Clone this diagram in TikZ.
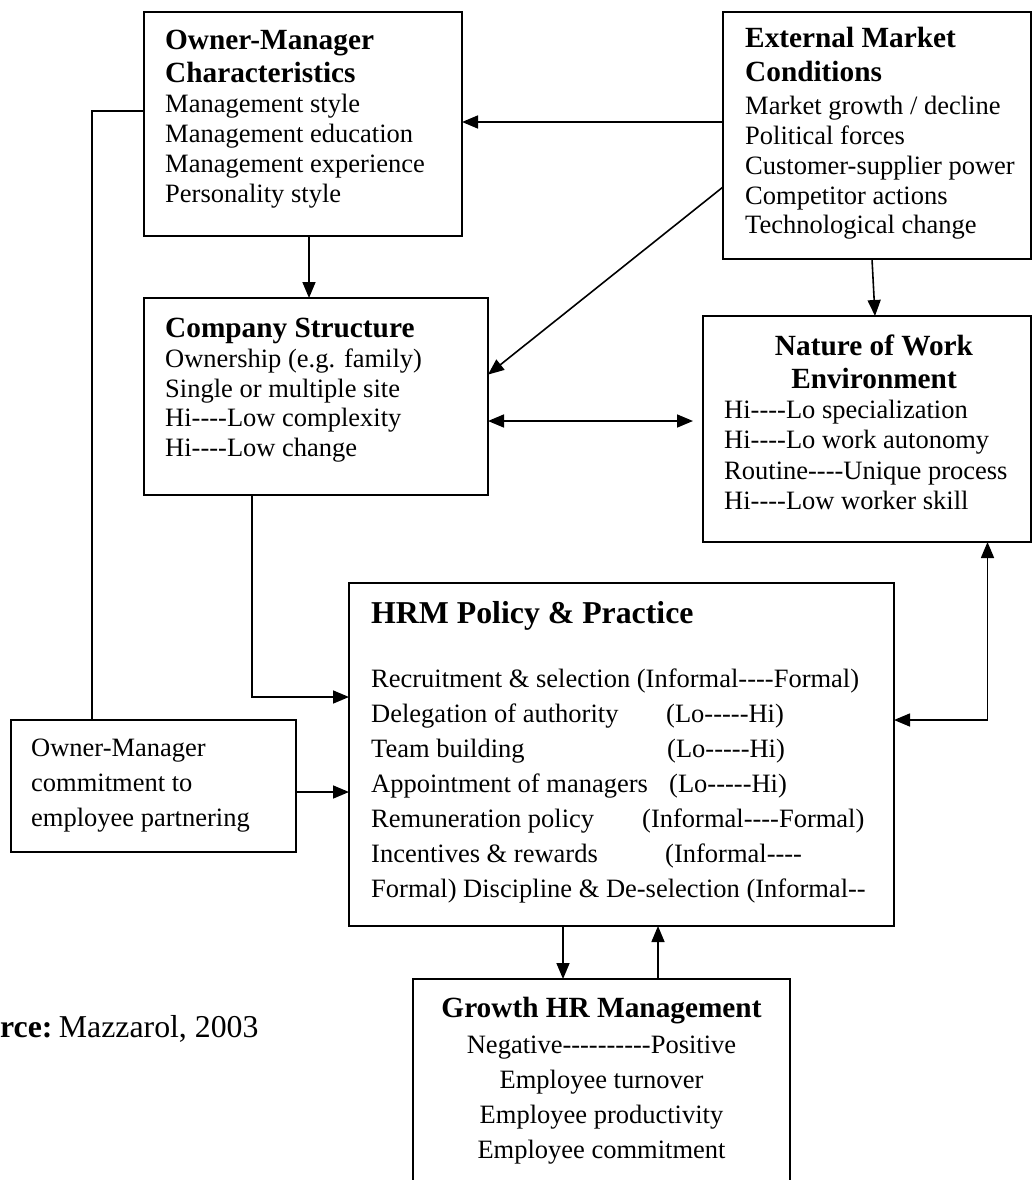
\documentclass[tikz,border=0pt]{standalone}
\usepackage{fontspec}
\setmainfont{Liberation Serif}[Ligatures=TeXOff]
\usetikzlibrary{arrows.meta}
\newcommand\bodyfont{\fontsize{26.5}{30}\selectfont}
\newcommand\headfont{\fontsize{29.3}{33}\selectfont\bfseries}
\newcommand\bigfont{\fontsize{31.8}{36}\selectfont}

\begin{document}
\begin{tikzpicture}[x=1pt,y=-1pt,
  box/.style={draw, line width=1.8pt, anchor=north west, inner sep=0pt, outer sep=0pt},
  wire/.style={line width=1.6pt},
  tip/.tip={Triangle[length=16pt,width=13pt]},
  arr/.style={wire, -tip},
  arrboth/.style={wire, tip-tip},
  ln/.style={anchor=base west, inner sep=0pt, font=\bodyfont},
  hd/.style={anchor=base west, inner sep=0pt, font=\headfont},
  lnc/.style={anchor=base, inner sep=0pt, font=\bodyfont},
  hdc/.style={anchor=base, inner sep=0pt, font=\headfont}]

\clip (0,0) rectangle (1032,1180);

% ---- boxes ----
\node[box, minimum width=318pt, minimum height=224pt] (om)  at (144,12)  {};
\node[box, minimum width=308pt, minimum height=247pt] (emc) at (723,12)  {};
\node[box, minimum width=344pt, minimum height=197pt] (cs)  at (144,298) {};
\node[box, minimum width=328pt, minimum height=226pt] (nwe) at (703,316) {};
\node[box, minimum width=545pt, minimum height=343pt] (hrm) at (349,583) {};
\node[box, minimum width=285pt, minimum height=132pt] (omc) at (11,720)  {};
\node[box, minimum width=377pt, minimum height=240pt] (ghr) at (413,979) {};

% ---- Owner-Manager Characteristics ----
\foreach \t [count=\i] in {Owner-Manager, Characteristics}
  \node[hd] (omh\i) at (165,{50+33*(\i-1)}) {\t};
\foreach \t [count=\i] in {Management style, Management education,
    Management experience, Personality style}
  \node[ln] (oml\i) at (165,{113+29.7*(\i-1)}) {\t};

% ---- External Market Conditions ----
\foreach \t [count=\i] in {External Market, Conditions}
  \node[hd] (emch\i) at (745,{48+34*(\i-1)}) {\t};
\foreach \t [count=\i] in {Market growth / decline, Political forces,
    Customer-supplier power, Competitor actions, Technological change}
  \node[ln] (emcl\i) at (745,{115+29.7*(\i-1)}) {\t};

% ---- Company Structure ----
\node[hd] (csh) at (165,337) {Company Structure};
\foreach \t [count=\i] in {Ownership (e.g. family), Single or multiple site,
    Hi----Low complexity, Hi----Low change}
  \node[ln] (csl\i) at (165,{367.5+29.7*(\i-1)}) {\t};

% ---- Nature of Work Environment ----
\foreach \t [count=\i] in {Nature of Work, Environment}
  \node[hdc] (nweh\i) at (874,{355+33*(\i-1)}) {\t};
\foreach \t [count=\i] in {Hi----Lo specialization, Hi----Lo work autonomy,
    Routine----Unique process, Hi----Low worker skill}
  \node[ln] (nwel\i) at (724,{418+30.5*(\i-1)}) {\t};

% ---- HRM Policy & Practice ----
\node[anchor=base west, inner sep=0pt, font=\bigfont\bfseries] (hrmh) at (371,623) {HRM Policy \& Practice};
\node[ln] (hr1) at (371,687) {Recruitment \& selection (Informal----Formal)};
\node[ln] (hr2) at (371,722) {Delegation of authority};
\node[ln] (hr2b) at (666,722) {(Lo-----Hi)};
\node[ln] (hr3) at (371,757) {Team building};
\node[ln] (hr3b) at (667,757) {(Lo-----Hi)};
\node[ln] (hr4) at (371,792) {Appointment of managers};
\node[ln] (hr4b) at (669,792) {(Lo-----Hi)};
\node[ln] (hr5) at (371,827) {Remuneration policy};
\node[ln] (hr5b) at (642,827) {(Informal----Formal)};
\node[ln] (hr6) at (371,862) {Incentives \& rewards};
\node[ln] (hr6b) at (665,862) {(Informal----};
\node[ln] (hr7) at (371,897) {Formal) Discipline \& De-selection (Informal--};

% ---- Owner-Manager commitment ----
\foreach \t [count=\i] in {Owner-Manager, commitment to, employee partnering}
  \node[ln] (omcl\i) at (31,{756+35*(\i-1)}) {\t};

% ---- Growth HR Management ----
\node[hdc] (ghrh) at (601.5,1017) {Growth HR Management};
\foreach \t [count=\i] in {Negative----------Positive, Employee turnover,
    Employee productivity, Employee commitment}
  \node[lnc] (ghrl\i) at (601.5,{1053+35*(\i-1)}) {\t};

% ---- source ----
\node[anchor=base west, inner sep=0pt, font=\bigfont] (src) at (0,1037) {\textbf{rce:}\hspace{0.2em}Mazzarol, 2003};

% ---- connectors ----
\draw[arr] ([yshift=-110pt]emc.north west) -- ([yshift=-110pt]om.north east);
\draw[arr] ([yshift=-175pt]emc.north west) -- ([yshift=-76.6pt]cs.north east);
\draw[arr] ([xshift=149pt]emc.south west) -- ([xshift=172pt]nwe.north west);
\draw[arr] ([xshift=165pt]om.south west) -- ([xshift=165pt]cs.north west);
\draw[arrboth] ([yshift=-123pt]cs.north east) -- ([xshift=-10pt,yshift=-105pt]nwe.north west);
\draw[arr] ([xshift=108pt]cs.south west) |- ([yshift=-114pt]hrm.north west);
\draw[wire] ([yshift=-99pt]om.north west) -| ([xshift=81pt]omc.north west);
\draw[arr] ([yshift=-72pt]omc.north east) -- ([yshift=-209pt]hrm.north west);
\draw[arrboth] ([xshift=-43.5pt]nwe.south east) |- ([yshift=-137pt]hrm.north east);
\draw[arr] ([xshift=214pt]hrm.south west) -- ([xshift=150pt]ghr.north west);
\draw[arr] ([xshift=245pt]ghr.north west) -- ([xshift=309pt]hrm.south west);
\end{tikzpicture}
\end{document}
